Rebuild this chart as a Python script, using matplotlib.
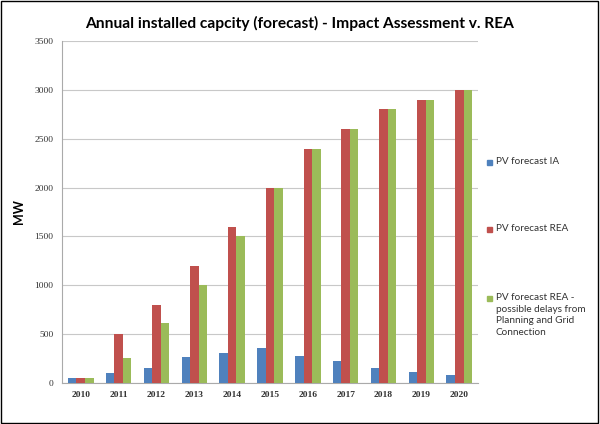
import matplotlib.pyplot as plt
import matplotlib.patches as mpatches
import numpy

years = ['2010', '2011', '2012', '2013', '2014', '2015', '2016', '2017', '2018', '2019', '2020']
pv_ia = [50, 100, 150, 270, 310, 360, 280, 220, 155, 115, 80]
pv_rea = [50, 500, 800, 1200, 1600, 2000, 2400, 2600, 2800, 2900, 3000]
pv_rea_delay = [50, 250, 610, 1000, 1500, 2000, 2400, 2600, 2800, 2900, 3000]

labels = ['PV forecast IA', 'PV forecast REA',
          'PV forecast REA -\npossible delays from\nPlanning and Grid\nConnection']
colors = ['#4F81BD', '#C0504D', '#9BBB59']

fig = plt.figure(figsize=(6, 4.24), dpi=100)
ax = fig.add_axes([0.103, 0.097, 0.694, 0.806])

x = numpy.arange(len(years))
w = 0.225
for i, vals in enumerate([pv_ia, pv_rea, pv_rea_delay]):
    ax.bar(x + (i - 1) * w, vals, width=w, color=colors[i], zorder=3)

ax.set_xlim(-0.5, len(years) - 0.5)
ax.set_ylim(0, 3500)
ax.set_yticks(range(0, 3501, 500))
ax.set_xticks(x)
ax.set_xticklabels(years, fontfamily='Liberation Serif', fontweight='bold', fontsize=6.8, color='#333333')
for t in ax.get_yticklabels():
    t.set_fontfamily('Liberation Serif')
    t.set_fontsize(6.8)
    t.set_color('#333333')
ax.tick_params(axis='both', length=0, pad=6)
ax.grid(axis='y', color='#c8c8c8', linewidth=0.8, zorder=0)
for s in ['top', 'right']:
    ax.spines[s].set_visible(False)
ax.spines['left'].set_color('#aaaaaa')
ax.spines['bottom'].set_color('#aaaaaa')

ax.set_ylabel('MW', fontfamily='Lato', fontweight='bold', fontsize=9, labelpad=7)

fig.text(0.5, 0.945, 'Annual installed capcity (forecast) - Impact Assessment v. REA',
         ha='center', va='center', fontfamily='Lato', fontweight='bold', fontsize=11.2)

# legend drawn by hand so the swatch sits on the first text line
leg_y = [1 - 162 / 424, 1 - 229 / 424, 1 - 298 / 424]
for lab, c, ly in zip(labels, colors, leg_y):
    fig.patches.append(mpatches.Rectangle((0.811, ly - 0.008), 0.009, 0.013,
                                          transform=fig.transFigure, color=c))
    fig.text(0.826, ly + 0.011, lab, ha='left', va='top', fontfamily='Lato', fontsize=7.2,
             color='#333333', linespacing=1.35)

fig.patches.append(mpatches.Rectangle((0.002, 0.003), 0.995, 0.994, transform=fig.transFigure,
                                      fill=False, edgecolor='black', linewidth=1))

fig.savefig('out.png', dpi=100)
